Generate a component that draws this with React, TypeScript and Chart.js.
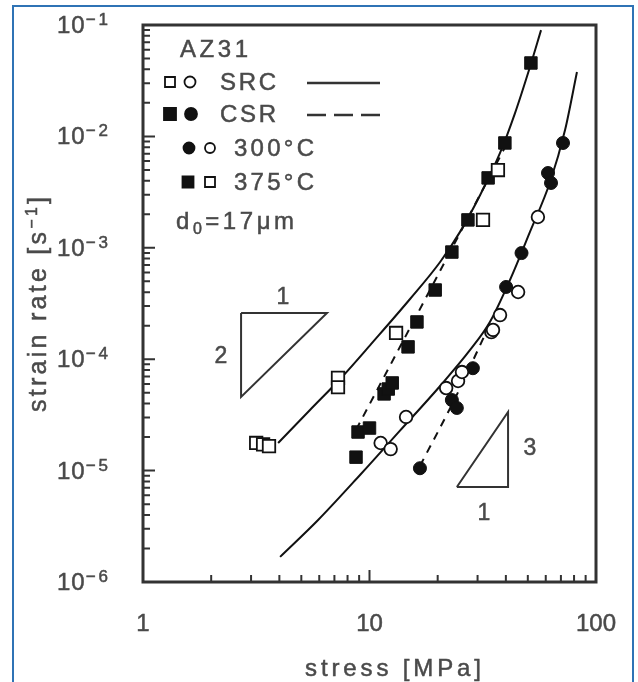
import React, { useEffect, useRef } from 'react';
import { Chart, registerables } from 'chart.js';

Chart.register(...registerables);

// ---------- axes ----------
const xMin = 1;
const xMax = 100;
const yMin = 1e-6;
const yMax = 1e-1;
const xMajorTicks = [1, 10, 100];
const xTickLabels = ['1', '10', '100'];
const yMajorTicks = [1e-6, 1e-5, 1e-4, 1e-3, 1e-2, 1e-1];
const yTickExponents = ['−6', '−5', '−4', '−3', '−2', '−1'];

// ---------- measured data ----------
// 375 °C, SRC (open squares)
const src375Stress = [3.16, 3.39, 3.6, 7.26, 7.26, 13.1, 31.7, 36.9];
const src375Rate = [1.77e-5, 1.72e-5, 1.66e-5, 6.8e-5, 5.6e-5, 1.72e-4, 1.78e-3, 4.99e-3];

// 375 °C, CSR (filled squares)
const csr375Stress = [8.72, 8.9, 10.0, 11.6, 12.1, 12.6, 14.8, 16.2, 19.5, 23.1, 27.2, 33.4, 39.6, 51.6];
const csr375Rate = [1.32e-5, 2.22e-5, 2.41e-5, 4.88e-5, 5.4e-5, 6.12e-5, 1.29e-4, 2.16e-4, 4.18e-4, 9.16e-4, 1.78e-3, 4.24e-3, 8.73e-3, 4.56e-2];

// 300 °C, SRC (open circles)
const src300Stress = [11.2, 12.4, 14.5, 21.8, 24.6, 25.6, 34.5, 35.1, 37.7, 45.3, 55.4];
const src300Rate = [1.77e-5, 1.56e-5, 3.03e-5, 5.51e-5, 6.37e-5, 7.67e-5, 1.75e-4, 1.83e-4, 2.49e-4, 4.01e-4, 1.89e-3];

// 300 °C, CSR (filled circles)
const csr300Stress = [16.7, 23.1, 24.3, 28.6, 40.1, 46.9, 61.4, 63.3, 71.5];
const csr300Rate = [1.05e-5, 4.3e-5, 3.65e-5, 8.3e-5, 4.45e-4, 8.97e-4, 4.69e-3, 3.82e-3, 8.73e-3];

// ---------- fitted curves ----------
const fitSrc375Stress = [3.95, 5.46, 7.56, 10.36, 15.1, 20.5, 25.1, 30.8, 37.7, 43.9, 51.1, 57.2];
const fitSrc375Rate = [1.77e-5, 3.5e-5, 6.92e-5, 1.43e-4, 3.47e-4, 7.46e-4, 1.39e-3, 2.98e-3, 7.1e-3, 1.62e-2, 4.2e-2, 9.0e-2];

const fitSrc300Stress = [4.03, 5.93, 9.08, 13.6, 20.5, 27.8, 34.0, 41.7, 51.1, 62.7, 73.0, 82.4];
const fitSrc300Rate = [1.68e-6, 3.6e-6, 9.13e-6, 2.27e-5, 5.75e-5, 1.21e-4, 2.16e-4, 5.14e-4, 1.39e-3, 3.9e-3, 1.14e-2, 3.79e-2];

const fitCsr375Stress = [8.72, 18.5, 39.7];
const fitCsr375Rate = [2.32e-5, 4.18e-4, 8.03e-3];

const fitCsr300Stress = [16.7, 23.9, 33.4];
const fitCsr300Rate = [1.1e-5, 4.48e-5, 1.91e-4];

// ---------- slope triangles ----------
const tri2Stress = [2.71, 6.49, 2.71, 2.71];
const tri2Rate = [2.6e-4, 2.6e-4, 4.58e-5, 2.6e-4];
const tri3Stress = [24.3, 40.9, 40.9, 24.3];
const tri3Rate = [7.13e-6, 7.13e-6, 3.36e-5, 7.13e-6];

const pts = (xs: number[], ys: number[]) => xs.map((x, i) => ({ x, y: ys[i] }));

const FONT = '"Liberation Sans", Arial, Helvetica, sans-serif';
const TEXT = '#4a4a4a';
const INK = '#111';

type Seg = { t: string; size: number; dy?: number; ls?: number };

function drawRich(
  ctx: CanvasRenderingContext2D,
  segs: Seg[],
  x: number,
  y: number,
  opts: { width?: number; align?: 'left' | 'center' | 'right'; color?: string } = {}
) {
  const chars: { ch: string; size: number; dy: number; w: number; ls: number }[] = [];
  for (const s of segs) {
    ctx.font = `${s.size}px ${FONT}`;
    for (const ch of Array.from(s.t)) {
      chars.push({ ch, size: s.size, dy: s.dy || 0, w: ctx.measureText(ch).width, ls: s.ls || 0 });
    }
  }
  const base = chars.reduce((a, c) => a + c.w, 0);
  let extra = 0;
  if (opts.width != null && chars.length > 1) extra = (opts.width - base) / (chars.length - 1);
  let total = base;
  chars.forEach((c, i) => {
    if (i < chars.length - 1) total += opts.width != null ? extra : c.ls;
  });
  const align = opts.align || 'left';
  let cx = align === 'center' ? x - total / 2 : align === 'right' ? x - total : x;
  ctx.fillStyle = opts.color || TEXT;
  ctx.strokeStyle = opts.color || TEXT;
  ctx.lineWidth = 0.5;
  ctx.textAlign = 'left';
  ctx.textBaseline = 'alphabetic';
  for (const c of chars) {
    ctx.font = `${c.size}px ${FONT}`;
    ctx.fillText(c.ch, cx, y + c.dy);
    ctx.strokeText(c.ch, cx, y + c.dy);
    cx += c.w + (opts.width != null ? extra : c.ls);
  }
}

const decor = {
  id: 'decor',
  beforeDraw(chart: any) {
    const ctx: CanvasRenderingContext2D = chart.ctx;
    ctx.save();
    ctx.fillStyle = '#fff';
    ctx.fillRect(0, 0, chart.width, chart.height);
    ctx.strokeStyle = '#2f73b5';
    ctx.lineWidth = 2;
    ctx.strokeRect(13, 6, 620, 700);
    ctx.restore();
  },
  afterDatasetsDraw(chart: any) {
    const ctx: CanvasRenderingContext2D = chart.ctx;
    const xs = chart.scales.x;
    const ys = chart.scales.y;
    const { left, right, top, bottom } = chart.chartArea;
    ctx.save();

    // axis box
    ctx.strokeStyle = '#333';
    ctx.lineWidth = 3;
    ctx.strokeRect(left, top, right - left, bottom - top);

    // inward ticks
    ctx.lineWidth = 2;
    ctx.beginPath();
    for (let d = 0; d < xMajorTicks.length - 1; d++) {
      for (let m = 1; m <= 9; m++) {
        const v = xMajorTicks[d] * m;
        const px = xs.getPixelForValue(v);
        const len = m === 1 ? 12 : 7;
        ctx.moveTo(px, bottom);
        ctx.lineTo(px, bottom - len);
      }
    }
    for (let d = 0; d < yMajorTicks.length - 1; d++) {
      for (let m = 1; m <= 9; m++) {
        const v = yMajorTicks[d] * m;
        const py = ys.getPixelForValue(v);
        const len = m === 1 ? 12 : 7;
        ctx.moveTo(left, py);
        ctx.lineTo(left + len, py);
      }
    }
    ctx.stroke();

    // y tick labels 10^n
    yMajorTicks.forEach((v, i) => {
      const py = ys.getPixelForValue(v);
      drawRich(ctx, [
        { t: '10', size: 24, ls: 1 },
        { t: yTickExponents[i], size: 17, dy: -8, ls: 3 },
      ], 57, py + 8);
    });

    // x tick labels
    xMajorTicks.forEach((v, i) => {
      const px = xs.getPixelForValue(v);
      drawRich(ctx, [{ t: xTickLabels[i], size: 24, ls: 0 }], px, 631, { align: 'center' });
    });

    // axis titles
    drawRich(ctx, [{ t: 'stress [MPa]', size: 24 }], 305, 676, { width: 176 });
    ctx.save();
    ctx.translate(46, 412);
    ctx.rotate(-Math.PI / 2);
    drawRich(ctx, [
      { t: 'strain rate [s', size: 25 },
      { t: '−1', size: 16, dy: -9 },
      { t: ']', size: 25 },
    ], 0, 0, { width: 215 });
    ctx.restore();

    // legend block
    drawRich(ctx, [{ t: 'AZ31', size: 24 }], 180, 57, { width: 68 });
    drawRich(ctx, [{ t: 'SRC', size: 24 }], 220, 90, { width: 56 });
    drawRich(ctx, [{ t: 'CSR', size: 24 }], 220, 122, { width: 56 });
    drawRich(ctx, [{ t: '300°C', size: 24 }], 234, 156, { width: 80 });
    drawRich(ctx, [{ t: '375°C', size: 24 }], 234, 190, { width: 80 });
    drawRich(ctx, [
      { t: 'd', size: 24 },
      { t: '0', size: 16, dy: 5 },
      { t: '=17μm', size: 24 },
    ], 176, 229, { width: 118 });

    const sq = (cx: number, cy: number, s: number, filled: boolean) => {
      ctx.beginPath();
      ctx.rect(cx - s / 2, cy - s / 2, s, s);
      ctx.fillStyle = filled ? INK : '#fff';
      ctx.fill();
      ctx.lineWidth = 1.8;
      ctx.strokeStyle = INK;
      ctx.stroke();
    };
    const ci = (cx: number, cy: number, d: number, filled: boolean) => {
      ctx.beginPath();
      ctx.arc(cx, cy, d / 2, 0, Math.PI * 2);
      ctx.fillStyle = filled ? INK : '#fff';
      ctx.fill();
      ctx.lineWidth = 1.8;
      ctx.strokeStyle = INK;
      ctx.stroke();
    };
    sq(170, 82, 10, false);
    ci(190, 82, 11, false);
    sq(170, 114, 12, true);
    ci(191, 114, 12, true);
    ci(189, 148, 11, true);
    ci(210, 148, 10, false);
    sq(188, 182, 11, true);
    sq(210, 182, 10, false);

    ctx.strokeStyle = '#333';
    ctx.lineWidth = 2.5;
    ctx.beginPath();
    ctx.moveTo(307, 83);
    ctx.lineTo(380, 83);
    ctx.stroke();
    ctx.setLineDash([19, 8]);
    ctx.beginPath();
    ctx.moveTo(307, 115);
    ctx.lineTo(380, 115);
    ctx.stroke();
    ctx.setLineDash([]);

    // slope triangle labels
    drawRich(ctx, [{ t: '1', size: 23 }], 283, 304, { align: 'center' });
    drawRich(ctx, [{ t: '2', size: 23 }], 221, 363, { align: 'center' });
    drawRich(ctx, [{ t: '3', size: 23 }], 530, 455, { align: 'center' });
    drawRich(ctx, [{ t: '1', size: 23 }], 484, 520, { align: 'center' });

    ctx.restore();
  },
};

export default function App() {
  const ref = useRef<HTMLCanvasElement>(null);

  useEffect(() => {
    const canvas = ref.current;
    if (!canvas) return;

    const lineDs = (label: string, xs: number[], ys: number[], extra: any = {}) => ({
      type: 'line' as const,
      label,
      data: pts(xs, ys),
      borderColor: INK,
      borderWidth: 2,
      pointRadius: 0,
      fill: false,
      order: 5,
      ...extra,
    });

    const chart = new Chart(canvas, {
      type: 'scatter',
      data: {
        datasets: [
          {
            label: '375°C SRC',
            data: pts(src375Stress, src375Rate),
            pointStyle: 'rect',
            pointRadius: 8.8,
            backgroundColor: '#fff',
            borderColor: INK,
            borderWidth: 1.8,
            order: 1,
          },
          {
            label: '375°C CSR',
            data: pts(csr375Stress, csr375Rate),
            pointStyle: 'rect',
            pointRadius: 8.8,
            backgroundColor: INK,
            borderColor: INK,
            borderWidth: 1,
            order: 2,
          },
          {
            label: '300°C SRC',
            data: pts(src300Stress, src300Rate),
            pointStyle: 'circle',
            pointRadius: 6.3,
            backgroundColor: '#fff',
            borderColor: INK,
            borderWidth: 1.8,
            order: 1,
          },
          {
            label: '300°C CSR',
            data: pts(csr300Stress, csr300Rate),
            pointStyle: 'circle',
            pointRadius: 6.5,
            backgroundColor: INK,
            borderColor: INK,
            borderWidth: 1,
            order: 2,
          },
          lineDs('SRC fit 375°C', fitSrc375Stress, fitSrc375Rate, { cubicInterpolationMode: 'monotone' }),
          lineDs('SRC fit 300°C', fitSrc300Stress, fitSrc300Rate, { cubicInterpolationMode: 'monotone' }),
          lineDs('CSR fit 375°C', fitCsr375Stress, fitCsr375Rate, { borderDash: [8, 7], cubicInterpolationMode: 'monotone' }),
          lineDs('CSR fit 300°C', fitCsr300Stress, fitCsr300Rate, { borderDash: [8, 7], cubicInterpolationMode: 'monotone' }),
          lineDs('slope 2', tri2Stress, tri2Rate, { borderColor: '#333', tension: 0 }),
          lineDs('slope 3', tri3Stress, tri3Rate, { borderColor: '#333', tension: 0 }),
        ] as any,
      },
      options: {
        responsive: false,
        animation: false,
        devicePixelRatio: 1,
        events: [],
        layout: { padding: { left: 143, right: 42, top: 25, bottom: 100 } },
        plugins: {
          legend: { display: false },
          tooltip: { enabled: false },
          title: { display: false },
        },
        scales: {
          x: { type: 'logarithmic', min: xMin, max: xMax, display: false },
          y: { type: 'logarithmic', min: yMin, max: yMax, display: false },
        },
      } as any,
      plugins: [decor],
    });

    return () => chart.destroy();
  }, []);

  return (
    <div style={{ position: 'absolute', left: 0, top: 0, width: 638, height: 682, background: '#fff' }}>
      <canvas ref={ref} width={638} height={682} style={{ display: 'block', width: 638, height: 682 }} />
    </div>
  );
}
